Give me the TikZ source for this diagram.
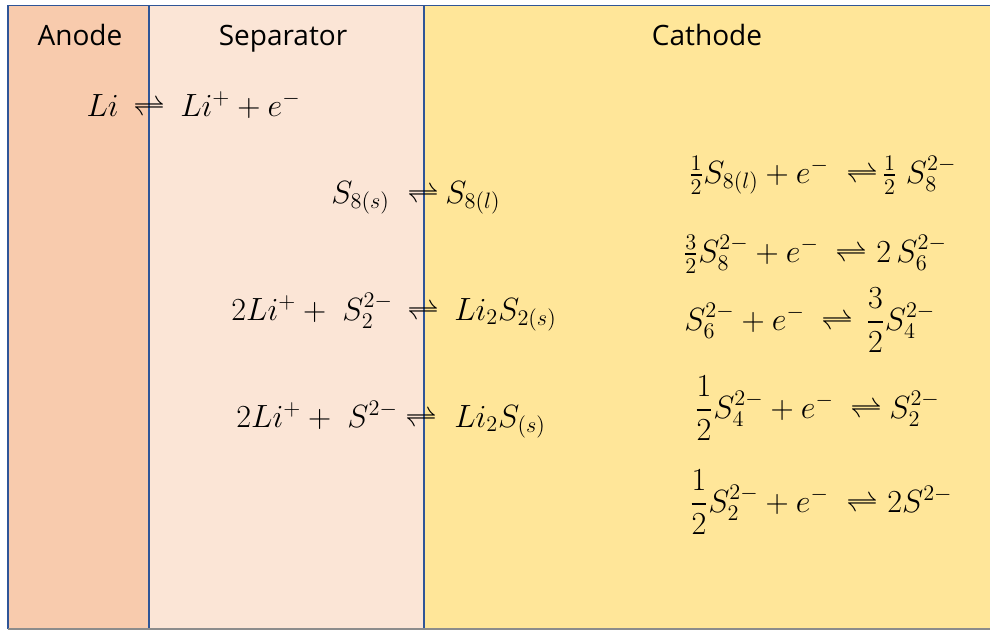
\documentclass[tikz,border=0pt]{standalone}
\usepackage{amsmath}
\usepackage{fontspec}
\setmainfont{Open Sans}
\definecolor{anodec}{HTML}{F8CBAD}
\definecolor{sepc}{HTML}{FBE5D6}
\definecolor{cathc}{HTML}{FFE699}
\definecolor{edgec}{HTML}{2F5597}
\definecolor{bottomc}{HTML}{8C8C8C}
\begin{document}
\begin{tikzpicture}[x=1pt,y=1pt,
  head/.style={font=\fontsize{28}{34}\selectfont, anchor=base, inner sep=0pt},
  eqbase/.style={font=\fontsize{20.74}{25}\selectfont, inner sep=0pt, scale=1.55, transform shape},
  eql/.style={eqbase, anchor=base east},
  eqr/.style={eqbase, anchor=base west},
  arr/.style={eqbase, anchor=base},
  wall/.style={draw=edgec, line width=1.6pt}]
\useasboundingbox (0,0) rectangle (990,-630);
\fill[white] (0,0) rectangle (990,-630);
\fill[anodec] (8,-5) rectangle (149,-629);
\fill[sepc] (149,-5) rectangle (424,-629);
\fill[cathc] (424,-5) rectangle (990,-629);
\draw[wall] (8,-629) -- (8,-5.5) -- (990,-5.5);
\draw[wall] (149,-5.5) -- (149,-629);
\draw[wall] (424,-5.5) -- (424,-629);
\draw[bottomc, line width=1.6pt] (8,-629) -- (990,-629);
% headings
\node[head] (anode) at (80,-45) {Anode};
\node[head] (sep) at (283,-45) {Separator};
\node[head] (cath) at (707,-45) {Cathode};
% anode / separator reactions
\node[eql] (r1l) at (119,-116) {$Li$};
\node[arr] (r1a) at (149,-116) {$\rightleftharpoons$};
\node[eqr] (r1r) at (180,-116) {$Li^{+}+e^{-}$};
\node[eql] (r2l) at (390,-203) {$S_{8(s)}$};
\node[arr] (r2a) at (423,-203) {$\rightleftharpoons$};
\node[eqr] (r2r) at (445,-203) {$S_{8(l)}$};
\node[eql] (r3l) at (393,-320) {$2Li^{+}+\;S_{2}^{2-}$};
\node[arr] (r3a) at (423,-320) {$\rightleftharpoons$};
\node[eqr] (r3r) at (454,-320) {$Li_{2}S_{2(s)}$};
\node[eql] (r4l) at (398,-427) {$2Li^{+}+\;S^{2-}$};
\node[arr] (r4a) at (421,-427) {$\rightleftharpoons$};
\node[eqr] (r4r) at (454,-427) {$Li_{2}S_{(s)}$};
% cathode reactions
\node[eql] (c1l) at (829,-183) {$\tfrac{1}{2}S_{8(l)}+e^{-}$};
\node[arr] (c1a) at (862,-183) {$\rightleftharpoons$};
\node[eqr] (c1r) at (882,-183) {$\tfrac{1}{2}\;S_{8}^{2-}$};
\node[eql] (c2l) at (819,-262) {$\tfrac{3}{2}S_{8}^{2-}+e^{-}$};
\node[arr] (c2a) at (851,-262) {$\rightleftharpoons$};
\node[eqr] (c2r) at (876,-262) {$2\,S_{6}^{2-}$};
\node[eql] (c3l) at (805,-330) {$S_{6}^{2-}+e^{-}$};
\node[arr] (c3a) at (837,-330) {$\rightleftharpoons$};
\node[eqr] (c3r) at (866,-330) {$\dfrac{3}{2}S_{4}^{2-}$};
\node[eql] (c4l) at (834,-418) {$\dfrac{1}{2}S_{4}^{2-}+e^{-}$};
\node[arr] (c4a) at (866,-418) {$\rightleftharpoons$};
\node[eqr] (c4r) at (889,-418) {$S_{2}^{2-}$};
\node[eql] (c5l) at (829,-512) {$\dfrac{1}{2}S_{2}^{2-}+e^{-}$};
\node[arr] (c5a) at (862,-512) {$\rightleftharpoons$};
\node[eqr] (c5r) at (887,-512) {$2S^{2-}$};
\end{tikzpicture}
\end{document}
